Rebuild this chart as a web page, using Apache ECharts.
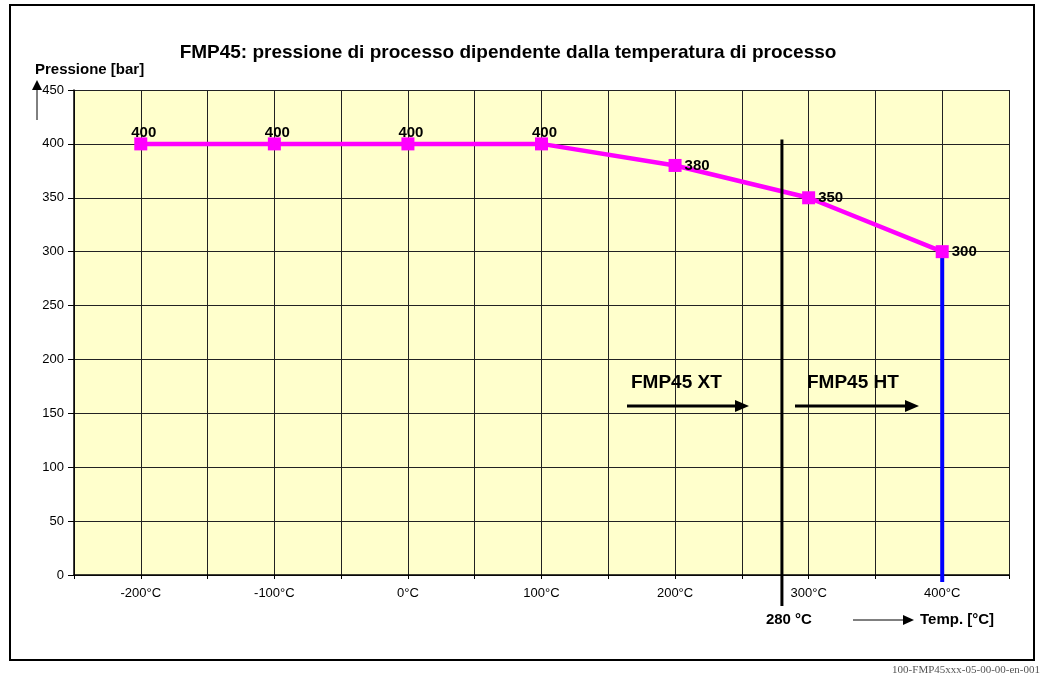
<!DOCTYPE html>
<html>
<head>
<meta charset="utf-8">
<script src="https://cdn.jsdelivr.net/npm/echarts@6/dist/echarts.min.js"></script>
<style>
  html, body { margin: 0; padding: 0; background: #ffffff; }
  #chart { width: 1043px; height: 674px; }
</style>
</head>
<body>
<div id="chart"></div>
<script>
// Process temperature [°C] and the maximum process pressure [bar]
const temperatures = [-200, -100, 0, 100, 200, 300, 400];
const pressures = [400, 400, 400, 400, 380, 350, 300];
const labelSides = ['top', 'top', 'top', 'top', 'right', 'right', 'right'];
// Version limit between FMP45 XT and FMP45 HT
const limitTemp = 280;
const limitPressureTop = 404;
const maxTemp = 400;
const maxTempPressure = 300;

const chart = echarts.init(document.getElementById('chart'));
const FONT = '"Liberation Sans", Arial, sans-serif';

const seriesData = temperatures.map((t, i) => ({
  value: [t, pressures[i]],
  label: {
    position: labelSides[i],
    distance: labelSides[i] === 'top' ? 1 : 3,
    offset: labelSides[i] === 'top' ? [3, 4] : [0, 0]
  }
}));

chart.setOption({
  animation: false,
  backgroundColor: '#ffffff',
  title: {
    text: 'FMP45: pressione di processo dipendente dalla temperatura di processo',
    left: 503, top: 38, textAlign: 'center',
    textStyle: { fontFamily: FONT, fontSize: 19, fontWeight: 'bold', color: '#000' }
  },
  grid: {
    left: 74, right: 34, top: 90, bottom: 99,
    show: true, backgroundColor: '#ffffcc', borderWidth: 0
  },
  xAxis: {
    type: 'value', min: -250, max: 450, interval: 50,
    axisLine: { show: true, onZero: false, lineStyle: { color: '#000', width: 1.5 } },
    axisTick: { show: true, length: 4, lineStyle: { color: '#000' } },
    axisLabel: {
      fontFamily: FONT, fontSize: 13, color: '#000', margin: 12,
      formatter: v => (v % 100 === 0 && v >= -200 && v <= 400) ? v + '°C' : ''
    },
    splitLine: { show: true, lineStyle: { color: '#222', width: 1 } }
  },
  yAxis: {
    type: 'value', min: 0, max: 450, interval: 50,
    axisLine: { show: true, onZero: false, lineStyle: { color: '#000', width: 1.5 } },
    axisTick: { show: true, length: 6, lineStyle: { color: '#000' } },
    axisLabel: { fontFamily: FONT, fontSize: 13, color: '#000', margin: 10 },
    splitLine: { show: true, lineStyle: { color: '#222', width: 1 } }
  },
  series: [{
    type: 'line',
    data: seriesData,
    symbol: 'rect',
    symbolSize: 13,
    z: 5,
    lineStyle: { color: '#ff00ff', width: 4.5 },
    itemStyle: { color: '#ff00ff' },
    label: {
      show: true,
      fontFamily: FONT, fontSize: 15, fontWeight: 'bold', color: '#000',
      formatter: p => p.value[1]
    }
  }]
});

// Annotation lines, arrows and texts positioned from the axes
const px = (x, y) => chart.convertToPixel({ gridIndex: 0 }, [x, y]);
const limitTop = px(limitTemp, limitPressureTop);
const limitBase = px(limitTemp, 0);
const maxTop = px(maxTemp, maxTempPressure);
const maxBase = px(maxTemp, 0);

function arrow(x1, x2, y, w, head, headLen) {
  return [
    { type: 'line', shape: { x1: x1, y1: y, x2: x2 - headLen + 1, y2: y },
      style: { stroke: '#000', lineWidth: w }, z: 10 },
    { type: 'polygon', shape: { points: [[x2 - headLen, y - head], [x2, y], [x2 - headLen, y + head]] },
      style: { fill: '#000' }, z: 10 }
  ];
}

const textStyle = (text, x, y, size, align) => ({
  type: 'text', x: x, y: y, z: 10,
  style: { text: text, fontFamily: FONT, fontSize: size, fontWeight: 'bold',
           fill: '#000', align: align || 'left', verticalAlign: 'middle' }
});

chart.setOption({
  graphic: [
    // outer frame
    { type: 'rect', shape: { x: 10, y: 5, width: 1024, height: 655 },
      style: { fill: 'none', stroke: '#000', lineWidth: 2 }, z: 0 },
    // version limit
    { type: 'line', shape: { x1: limitTop[0], y1: limitTop[1], x2: limitBase[0], y2: limitBase[1] + 31 },
      style: { stroke: '#000', lineWidth: 3 }, z: 8 },
    // maximum temperature
    { type: 'line', shape: { x1: maxTop[0], y1: maxTop[1], x2: maxBase[0], y2: maxBase[1] + 7 },
      style: { stroke: '#0000ff', lineWidth: 4 }, z: 4 },
    textStyle('FMP45 XT', 631, 383, 19),
    ...arrow(627, 749, 406, 3, 6, 14),
    textStyle('FMP45 HT', 807, 383, 19),
    ...arrow(795, 919, 406, 3, 6, 14),
    textStyle('280 °C', limitBase[0] + 7, 620, 15, 'center'),
    ...arrow(853, 914, 620, 1, 5, 11),
    textStyle('Temp. [°C]', 920, 620, 15),
    // y-axis arrow and name
    { type: 'line', shape: { x1: 37, y1: 120, x2: 37, y2: 88 },
      style: { stroke: '#000', lineWidth: 1 }, z: 10 },
    { type: 'polygon', shape: { points: [[32, 90], [37, 80], [42, 90]] },
      style: { fill: '#000' }, z: 10 },
    textStyle('Pressione [bar]', 35, 70, 15),
    {
      type: 'text', x: 1040, y: 670, z: 10,
      style: { text: '100-FMP45xxx-05-00-00-en-001', fontFamily: '"Liberation Serif", "Times New Roman", serif',
               fontSize: 11, fill: '#555', align: 'right', verticalAlign: 'middle' }
    }
  ]
});
</script>
</body>
</html>
